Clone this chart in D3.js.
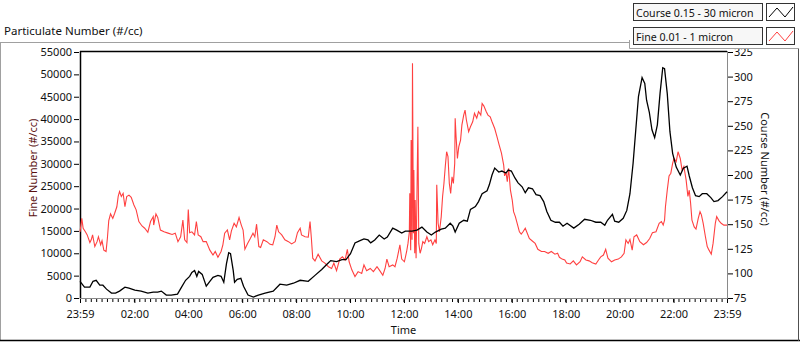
<!DOCTYPE html>
<meta charset="utf-8">
<script src="https://d3js.org/d3.v7.min.js"></script>
<style>
  body { margin: 0; background: #fff; }
  text { font-family: "Segoe UI", "Noto Sans", sans-serif; font-size: 11px; fill: #111; }
</style>
<svg id="chart"></svg>
<script>

// coarse particles (right axis), hours after 23:59
let courseHours = [0,0.17,0.36,0.48,0.60,0.73,0.85,0.98,1.16,1.31,
  1.47,1.66,1.81,2.03,2.27,2.52,2.71,2.89,3.02,3.20,
  3.39,3.61,3.76,3.91,4.07,4.15,4.25,4.33,4.40,4.53,
  4.69,4.81,4.93,5.12,5.24,5.33,5.43,5.52,5.59,5.68,
  5.74,5.83,5.96,6.06,6.24,6.43,6.61,6.86,7.17,7.42,
  7.67,7.91,8.16,8.47,8.72,8.97,9.15,9.30,9.52,9.71,
  9.87,10.04,10.20,10.36,10.54,10.69,10.79,10.94,11.10,11.28,
  11.40,11.60,11.75,11.93,12.06,12.13,12.32,12.50,12.69,12.87,
  13.03,13.18,13.40,13.55,13.74,13.83,13.92,14.07,14.23,14.36,
  14.48,14.66,14.79,14.91,15.10,15.18,15.28,15.38,15.53,15.65,
  15.80,15.88,16.00,16.13,16.25,16.40,16.52,16.64,16.79,16.92,
  17.07,17.20,17.32,17.47,17.63,17.78,17.91,18.07,18.32,18.51,
  18.72,18.94,19.13,19.32,19.46,19.56,19.75,19.83,19.99,20.15,
  20.28,20.40,20.52,20.62,20.72,20.85,20.95,21.02,21.12,21.22,
  21.32,21.41,21.51,21.61,21.69,21.79,21.89,21.99,22.11,22.26,
  22.38,22.51,22.60,22.71,22.84,22.96,23.08,23.25,23.40,23.52,
  23.67,23.83,24.0];
let courseValues = [92,86,86,92,93,88,88,84,80,80,
  82,86,85,83,82,80,81,81,82,78,
  78,79,86,93,97,101,103,97,102,99,
  87,92,96,98,97,91,110,121,120,103,
  91,94,95,87,78,76,78,80,82,89,
  88,90,93,92,98,104,109,113,112,114,
  114,120,131,133,135,134,131,134,139,135,
  137,146,144,141,143,143,143,144,147,142,
  139,142,145,146,151,148,142,151,154,153,
  165,168,173,181,184,190,200,207,203,204,
  202,205,204,197,192,188,182,187,186,180,
  179,173,163,154,152,152,148,151,146,150,
  155,154,152,152,149,154,160,153,152,156,
  164,181,212,246,280,299,293,276,264,246,
  238,251,283,309,308,283,244,222,208,200,
  207,209,199,187,179,178,181,181,177,173,
  174,178,183];

// fine particles (left axis)
let fineHours = [0,0.07,0.12,0.20,0.27,0.36,0.42,0.47,0.55,0.64,
  0.69,0.77,0.82,0.89,0.96,1.01,1.06,1.14,1.22,1.29,
  1.36,1.41,1.46,1.53,1.60,1.66,1.73,1.81,1.90,2.00,
  2.09,2.18,2.30,2.40,2.52,2.62,2.71,2.74,2.81,2.89,
  2.99,3.12,3.26,3.41,3.54,3.64,3.74,3.82,3.88,3.96,
  4.01,4.07,4.15,4.25,4.31,4.38,4.48,4.56,4.69,4.81,
  4.93,5.02,5.12,5.24,5.30,5.37,5.46,5.55,5.61,5.71,
  5.80,5.90,5.98,6.05,6.12,6.21,6.31,6.41,6.49,6.55,
  6.63,6.70,6.80,6.93,7.05,7.15,7.23,7.30,7.37,7.48,
  7.60,7.73,7.85,7.98,8.06,8.16,8.22,8.35,8.47,8.53,
  8.59,8.63,8.72,8.84,8.97,9.09,9.21,9.34,9.42,9.52,
  9.64,9.74,9.83,9.92,9.99,10.08,10.20,10.32,10.45,10.53,
  10.64,10.76,10.88,11.01,11.10,11.23,11.31,11.38,11.47,11.60,
  11.68,11.77,11.87,11.94,12.04,12.12,12.17,12.22,12.24,12.27,
  12.29,12.32,12.34,12.36,12.39,12.42,12.44,12.46,12.49,12.54,
  12.56,12.61,12.66,12.71,12.79,12.86,12.94,13.01,13.08,13.16,
  13.21,13.24,13.28,13.33,13.40,13.45,13.50,13.55,13.60,13.65,
  13.70,13.75,13.80,13.85,13.90,13.92,13.95,14.00,14.05,14.11,
  14.17,14.24,14.29,14.34,14.42,14.49,14.57,14.64,14.72,14.79,
  14.86,14.91,14.99,15.06,15.13,15.21,15.28,15.38,15.47,15.55,
  15.63,15.72,15.75,15.80,15.85,15.90,15.96,16.03,16.09,16.15,
  16.22,16.30,16.37,16.44,16.52,16.59,16.67,16.77,16.89,16.99,
  17.11,17.24,17.36,17.48,17.61,17.71,17.78,17.88,17.98,18.05,
  18.18,18.30,18.42,18.55,18.63,18.76,18.88,19.00,19.13,19.23,
  19.32,19.41,19.50,19.59,19.71,19.83,19.96,20.08,20.18,20.25,
  20.33,20.40,20.48,20.55,20.65,20.77,20.90,21.02,21.14,21.24,
  21.36,21.48,21.56,21.64,21.69,21.72,21.78,21.85,21.91,21.99,
  22.03,22.11,22.18,22.26,22.33,22.40,22.48,22.55,22.60,22.65,
  22.70,22.78,22.85,22.93,23.00,23.05,23.12,23.20,23.27,23.34,
  23.42,23.49,23.57,23.62,23.70,23.78,23.88,24.0];
let fineValues = [14800,17800,15600,14800,14100,12400,13000,14100,11500,12600,
  13700,11900,12800,10700,10400,13400,17300,18800,17800,18900,
  20400,22700,23800,22700,23400,20400,22700,23000,22500,20800,
  19700,17100,16100,15600,14700,17100,18200,16300,18800,18000,
  15200,14800,14500,14200,14500,12600,13700,17400,13000,12400,
  19800,14600,14800,14100,17100,14100,13700,12600,12600,10700,
  9600,10400,9100,10400,11900,14500,15200,13000,15000,16700,
  15900,18000,16300,15200,10900,12200,13300,14500,13700,16500,
  11500,11300,13000,12600,12000,11900,13700,16300,14800,14100,
  13000,12600,12100,12600,14600,15600,14100,13700,13600,17100,
  13300,8900,8300,9800,8300,7800,7000,6600,7800,6100,
  8700,9200,8500,10900,8100,6300,4800,5900,5500,7400,
  6100,6600,5900,7000,6300,5100,6600,8700,7000,7400,
  7000,8900,11900,8700,8100,10400,12200,14800,23400,10700,
  35300,13000,52500,14500,28600,10000,21900,8900,15900,38300,
  12200,10000,11100,12600,12200,13700,12600,13000,11900,13000,
  12200,25300,16700,14800,18200,22700,25600,29400,32700,31600,
  25600,23400,27100,25600,30100,40200,36100,31200,33800,35300,
  38700,40900,42000,39800,37200,38300,39400,41300,40200,41700,
  40900,43500,42900,41700,40900,40500,39400,37900,36100,34200,
  32400,29700,27300,28200,26000,29000,24100,21900,19300,18200,
  16700,14800,14300,14800,15600,14600,13300,12800,12200,10900,
  10400,10400,10000,10400,9800,10000,9100,8700,8500,7800,
  7600,8300,7400,8100,9200,8500,8300,7900,7600,8500,
  9200,9600,10900,8900,8100,8500,8700,9200,10000,13000,
  12200,13100,10700,13700,14100,12600,11900,12400,13300,14600,
  14800,16700,17100,16300,17400,20400,24100,27300,27900,30100,
  31200,30500,32700,31200,28600,29400,26400,22700,24100,21200,
  17400,15900,15400,17800,19300,18600,16700,13700,11500,10700,
  9800,12200,16700,18200,17300,16700,16300,16300];

let fineTicks = d3.range(0, 55001, 5000);
let courseTicks = d3.range(75, 326, 25);
let timeLabelHours = [2, 4, 6, 8, 10, 12, 14, 16, 18, 20, 22];
let legendNames = ["Course 0.15 - 30 micron", "Fine 0.01 - 1 micron"];
let legendColors = ["#000000", "#ff4040"];

let width = 800, height = 342;
let plot = {left: 80, right: 727, top: 52, bottom: 298};

let svg = d3.select("#chart").attr("width", width).attr("height", height);

let start = new Date(2020, 0, 1, 23, 59);
let end = d3.timeMinute.offset(start, 24 * 60);
let toDate = h => d3.timeMinute.offset(start, Math.round(h * 60));

let x = d3.scaleTime().domain([start, end]).range([plot.left, plot.right]);
let yFine = d3.scaleLinear().domain([0, 55000]).range([plot.bottom, plot.top]);
let yCourse = d3.scaleLinear().domain([75, 325]).range([plot.bottom, plot.top]);

// outer panel frame
svg.append("line").attr("x1", 0).attr("x2", 799).attr("y1", 42.5).attr("y2", 42.5).attr("stroke", "#a0a0a0");
svg.append("line").attr("x1", 0.5).attr("x2", 0.5).attr("y1", 42).attr("y2", 341).attr("stroke", "#a0a0a0");
svg.append("line").attr("x1", 0).attr("x2", 800).attr("y1", 340.5).attr("y2", 340.5).attr("stroke", "#000").attr("stroke-width", 1.5);
svg.append("line").attr("x1", 798.5).attr("x2", 798.5).attr("y1", 42).attr("y2", 341).attr("stroke", "#505050");

svg.append("text").attr("x", 4).attr("y", 35).style("font-size", "11.5px").text("Particulate Number (#/cc)");

// plot frame
svg.append("line").attr("x1", plot.left).attr("x2", plot.right).attr("y1", plot.top - 0.5).attr("y2", plot.top - 0.5)
  .attr("stroke", "#000").attr("stroke-width", 1.5);
svg.append("line").attr("x1", plot.left + 0.5).attr("x2", plot.left + 0.5).attr("y1", plot.top - 1).attr("y2", plot.bottom + 1)
  .attr("stroke", "#000").attr("stroke-width", 1.5);
svg.append("line").attr("x1", plot.right + 0.5).attr("x2", plot.right + 0.5).attr("y1", plot.top - 1).attr("y2", plot.bottom + 1)
  .attr("stroke", "#8a8a8a");
svg.append("line").attr("x1", plot.left).attr("x2", plot.right + 1).attr("y1", plot.bottom + 0.5).attr("y2", plot.bottom + 0.5)
  .attr("stroke", "#8a8a8a");

// axes
svg.append("g").attr("transform", `translate(${plot.left - 1},0)`)
  .call(d3.axisLeft(yFine).tickValues(fineTicks).tickSize(5).tickPadding(2).tickFormat(d3.format("d")));
svg.append("g").attr("transform", `translate(${plot.right + 1},0)`)
  .call(d3.axisRight(yCourse).tickValues(courseTicks).tickSize(5).tickPadding(1).tickFormat(d3.format("d")));

let minorTimes = d3.range(0, 24 * 60 + 1, 12).map(m => d3.timeMinute.offset(start, m));
svg.append("g").attr("transform", `translate(0,${plot.bottom + 1})`)
  .call(d3.axisBottom(x).tickValues(minorTimes).tickSize(3).tickFormat(""));

let majorTimes = [start].concat(timeLabelHours.map(h => new Date(2020, 0, 2, h, 0)), [end]);
svg.append("g").attr("transform", `translate(0,${plot.bottom + 1})`)
  .call(d3.axisBottom(x).tickValues(majorTimes).tickSize(4).tickPadding(7).tickFormat(d3.timeFormat("%H:%M")));

svg.selectAll(".domain").remove();
svg.selectAll(".tick line").attr("stroke", "#000");
svg.selectAll(".tick text").style("font-size", "11px").attr("fill", "#111");

svg.append("text").attr("x", (plot.left + plot.right) / 2).attr("y", 334).attr("text-anchor", "middle").text("Time");
svg.append("text").attr("transform", "translate(37,168) rotate(-90)").attr("text-anchor", "middle")
  .style("fill", "#5a1010").text("Fine Number (#/cc)");
svg.append("text").attr("transform", "translate(761,169) rotate(90)").attr("text-anchor", "middle")
  .text("Course Number (#/cc)");

// data lines
let fineData = d3.zip(fineHours, fineValues);
let courseData = d3.zip(courseHours, courseValues);

svg.append("path").datum(fineData)
  .attr("fill", "none").attr("stroke", legendColors[1]).attr("stroke-width", 1.1)
  .attr("d", d3.line().x(d => x(toDate(d[0]))).y(d => yFine(d[1])));
svg.append("path").datum(courseData)
  .attr("fill", "none").attr("stroke", legendColors[0]).attr("stroke-width", 1.3)
  .attr("d", d3.line().x(d => x(toDate(d[0]))).y(d => yCourse(d[1])));

// legend panel
svg.append("rect").attr("x", 629).attr("y", 0).attr("width", 171).attr("height", 48).attr("fill", "#fff");
svg.append("polyline").attr("points", "629.5,40 629.5,48.5 799,48.5").attr("fill", "none").attr("stroke", "#a0a0a0");

let legend = svg.selectAll(".legend-item").data(legendNames).enter()
  .append("g").attr("class", "legend-item")
  .attr("transform", (d, i) => `translate(0,${i * 24})`);

legend.append("rect").attr("x", 633.5).attr("y", 3.5).attr("width", 129).attr("height", 17)
  .attr("fill", "#f7f7f7").attr("stroke", "#333");
legend.append("text").attr("x", 636).attr("y", 16.5).style("font-size", "10.6px").text(d => d);
legend.append("rect").attr("x", 766.5).attr("y", 3.5).attr("width", 28).attr("height", 17)
  .attr("fill", "#fff").attr("stroke", "#333");
legend.append("polyline")
  .attr("points", "769,17 777,8 785,17 793,7")
  .attr("fill", "none")
  .attr("stroke", (d, i) => legendColors[i]).attr("stroke-width", 1);

</script>
